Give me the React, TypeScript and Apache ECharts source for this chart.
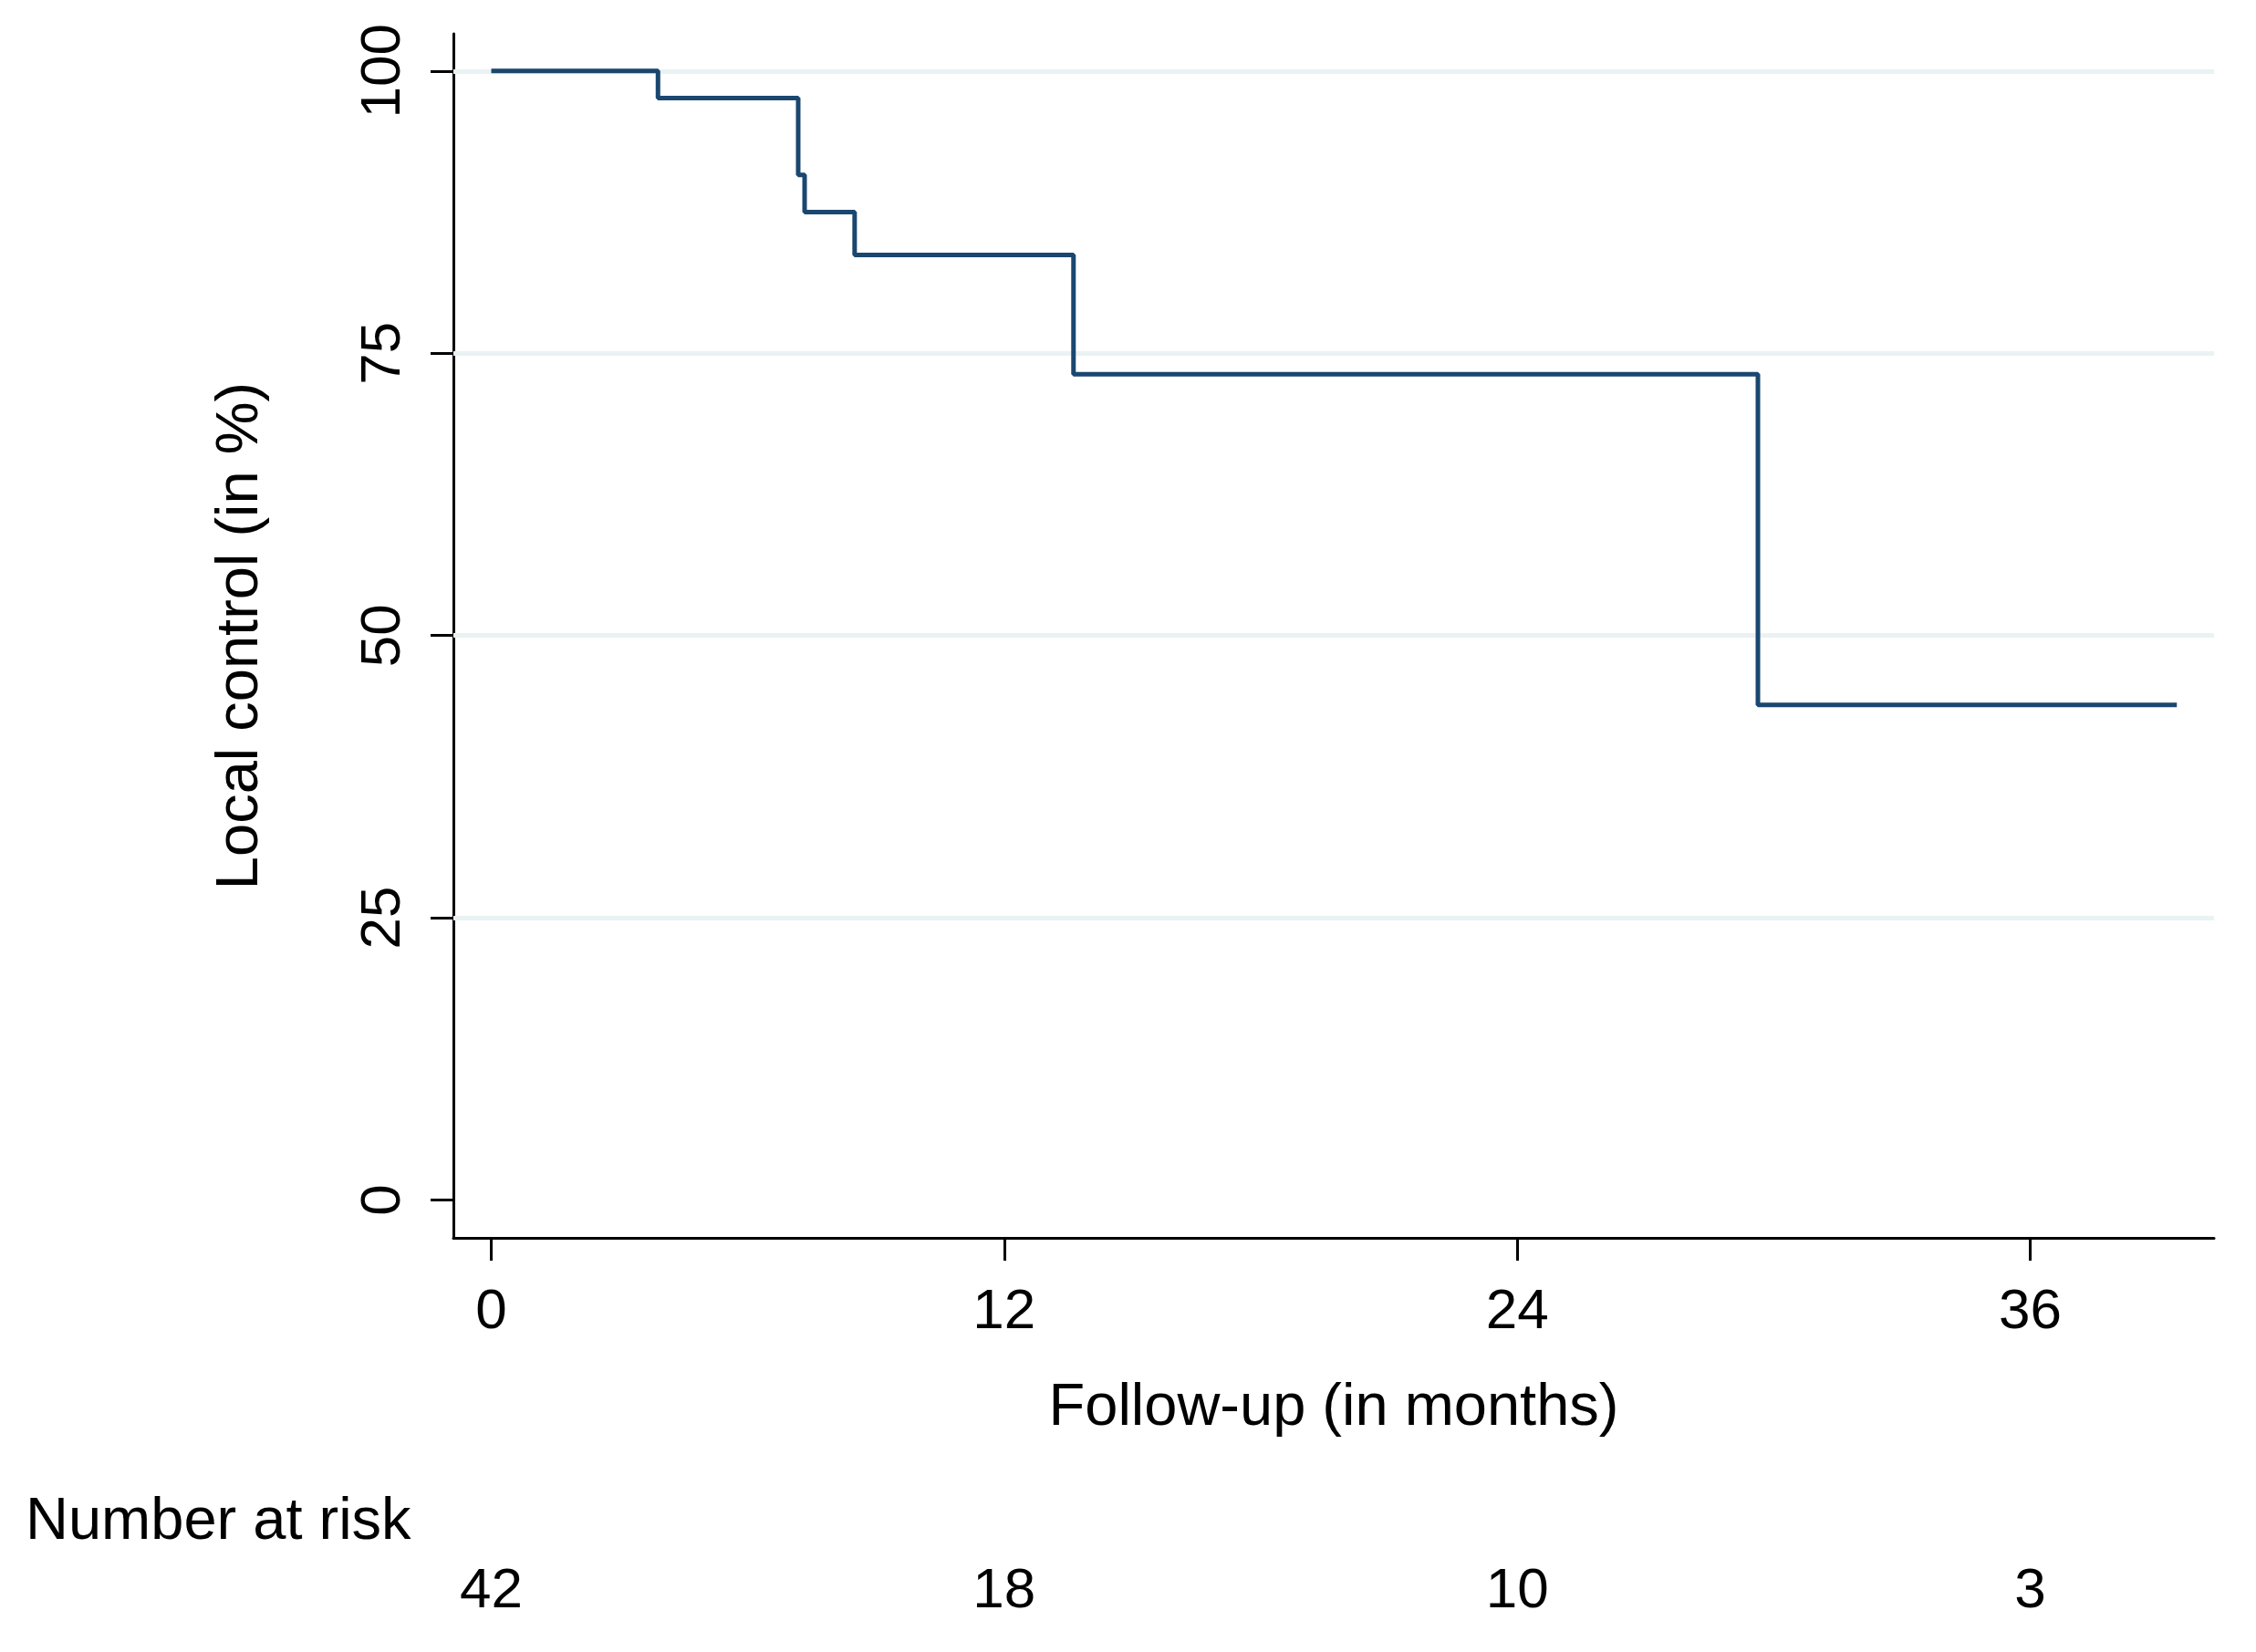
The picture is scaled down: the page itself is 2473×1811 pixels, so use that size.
import React, { useEffect, useRef } from "react";
import * as echarts from "echarts";

// Kaplan-Meier step points: [month, local control %]
const kmTimes = [0, 3.9, 7.18, 7.33, 8.5, 13.62, 29.63, 39.43];
const kmValues = [100, 97.6, 90.8, 87.5, 83.7, 73.15, 43.85, 43.85];

const xTicks = [0, 12, 24, 36];
const yTicks = [0, 25, 50, 75, 100];
const gridValues = [25, 50, 75, 100];
const riskCounts = [42, 18, 10, 3];

const FONT = "Liberation Sans, Arial, sans-serif";

export default function App() {
  const ref = useRef<HTMLDivElement>(null);
  useEffect(() => {
    if (!ref.current) return;
    const chart = echarts.init(ref.current, null, { renderer: "svg" });
    const riskMap: Record<string, number> = {};
    xTicks.forEach((t, i) => (riskMap[String(t)] = riskCounts[i]));
    chart.setOption({
      animation: false,
      backgroundColor: "#ffffff",
      textStyle: { fontFamily: FONT },
      grid: { left: 497, top: 37, width: 1930, height: 1320, containLabel: false },
      xAxis: [
        {
          type: "value",
          min: -0.886,
          max: 40.3,
          position: "bottom",
          name: "Follow-up (in months)",
          nameLocation: "middle",
          nameGap: 150,
          nameTextStyle: { fontSize: 65, color: "#000", fontFamily: FONT },
          axisLine: { show: true, onZero: false, lineStyle: { color: "#000", width: 3 } },
          axisTick: { show: true, customValues: xTicks, length: 25, lineStyle: { color: "#000", width: 3 } },
          axisLabel: { customValues: xTicks, fontSize: 62, color: "#000", margin: 46, fontFamily: FONT },
          splitLine: { show: false },
        },
        {
          type: "value",
          min: -0.886,
          max: 40.3,
          position: "bottom",
          offset: 306,
          axisLine: { show: false },
          axisTick: { show: false },
          axisLabel: {
            customValues: xTicks,
            fontSize: 62,
            color: "#000",
            margin: 46,
            fontFamily: FONT,
            formatter: (v: number) => String(riskMap[String(v)] ?? ""),
          },
          splitLine: { show: false },
        },
      ],
      yAxis: {
        type: "value",
        min: -3.35,
        max: 103.3,
        name: "Local control (in %)",
        nameLocation: "middle",
        nameGap: 205,
        nameTextStyle: { fontSize: 65, color: "#000", fontFamily: FONT },
        axisLine: { show: true, onZero: false, lineStyle: { color: "#000", width: 3 } },
        axisTick: { show: true, customValues: yTicks, length: 25, lineStyle: { color: "#000", width: 3 } },
        axisLabel: { customValues: yTicks, rotate: 90, fontSize: 62, color: "#000", margin: 50, fontFamily: FONT },
        splitLine: { show: false },
      },
      graphic: [
        {
          type: "text",
          left: 28,
          top: 1632,
          style: { text: "Number at risk", fontSize: 65, fill: "#000", fontFamily: FONT },
        },
      ],
      series: [
        {
          type: "line",
          data: [],
          z: 1,
          silent: true,
          markLine: {
            z: 1,
            silent: true,
            symbol: "none",
            label: { show: false },
            lineStyle: { color: "#eaf2f3", width: 5, type: "solid" },
            data: gridValues.map((v) => ({ yAxis: v })),
          },
        },
        {
          type: "line",
          step: "end",
          z: 10,
          showSymbol: false,
          symbol: "none",
          lineStyle: { color: "#1a476f", width: 5 },
          data: kmTimes.map((t, i) => [t, kmValues[i]]),
        },
      ],
    });
    return () => chart.dispose();
  }, []);
  return (
    <div
      ref={ref}
      style={{ position: "absolute", left: 0, top: 0, width: 2473, height: 1811, background: "#fff" }}
    />
  );
}
